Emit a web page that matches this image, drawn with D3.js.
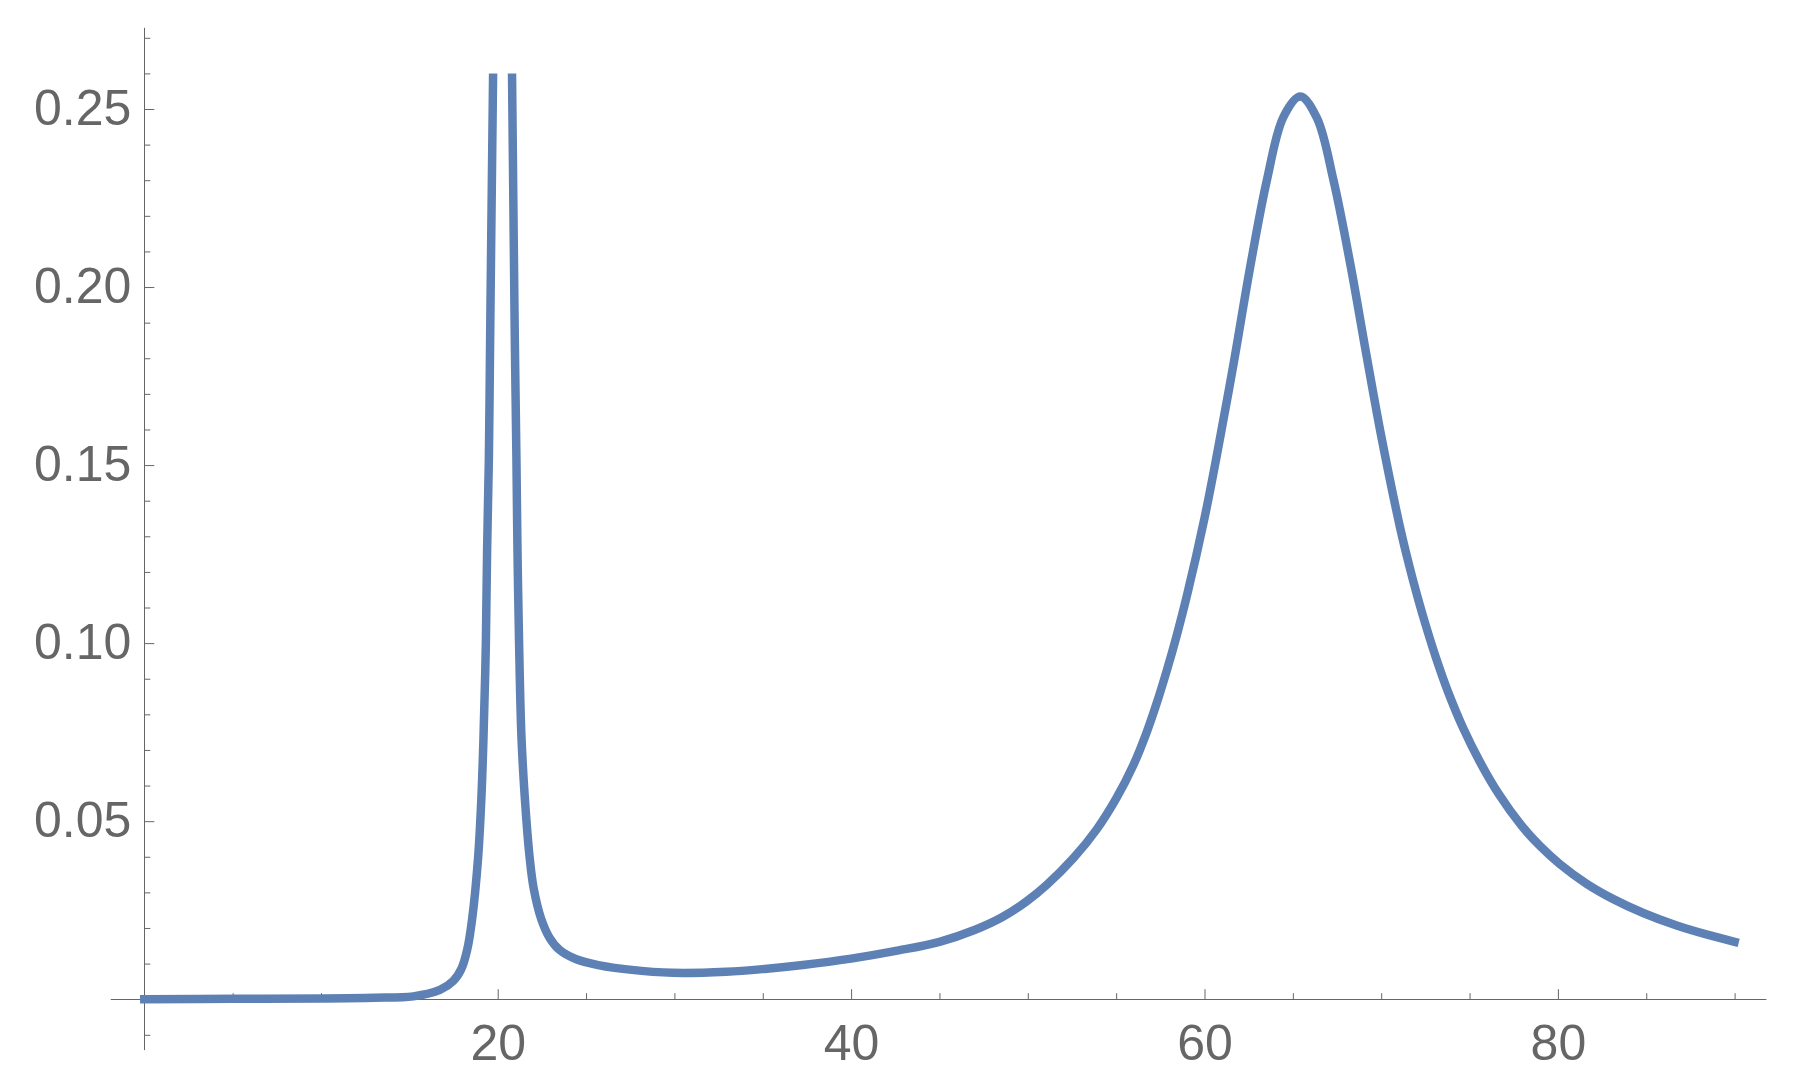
<!DOCTYPE html>
<html>
<head>
<meta charset="UTF-8" />
<title>curve</title>
<script src="https://d3js.org/d3.v7.min.js"></script>
<style>
  html, body { margin: 0; padding: 0; background: #fff; }
  svg { display: block; }
</style>
</head>
<body>
<svg id="chart" width="1805" height="1086"></svg>
<script>
// values (x, y); the spike near 20 runs off the top and is clipped
var xs = [0, 5, 10, 13, 15.22, 16.73, 17.48, 17.95, 18.27, 18.55, 18.89, 19.08, 19.2, 19.33, 19.4, 19.5, 19.57, 19.63, 19.74, 19.9,
  20.27,
  20.65, 20.81, 20.91, 20.97, 21.06, 21.12, 21.21, 21.34, 21.53, 21.81, 22.04, 22.47, 22.94, 23.51, 24.45, 25.77, 27.46, 29.9,
  32.93, 35.1, 37.27, 40, 42.69, 45, 47.02, 48.54, 49.94, 51.07, 52.58, 53.9, 55.03, 55.97, 56.73, 57.3, 57.86, 58.43, 59,
  60, 60.7, 61.64, 62.58, 63.53, 64.47, 65.42, 66.36, 67.3, 68.25, 69.19, 70, 71.08, 71.57, 72.04, 72.54, 73.14, 73.8,
  74.65, 75.55, 76.63, 77.95, 78.99, 80.12, 81.63, 83.14, 84.83, 86.72, 88.61, 90];
var ys = [0, 0.0001, 0.0002, 0.0004, 0.0008, 0.0026, 0.0051, 0.0086, 0.0138, 0.0224, 0.0397, 0.0569, 0.0742, 0.1, 0.1259, 0.1518, 0.1846, 0.2122, 0.2602, 0.35,
  0.9,
  0.35, 0.2602, 0.2122, 0.1846, 0.1518, 0.1259, 0.1, 0.0742, 0.0569, 0.0397, 0.031, 0.0224, 0.0172, 0.0138, 0.0112, 0.0095, 0.0083, 0.0074,
  0.0077, 0.0085, 0.0096, 0.0114, 0.0137, 0.0161, 0.0195, 0.023, 0.0275, 0.0321, 0.0396, 0.0477, 0.0566, 0.0657, 0.075, 0.0832, 0.0922, 0.1022, 0.1132,
  0.1351, 0.1528, 0.1783, 0.2055, 0.23, 0.2478, 0.2535, 0.2475, 0.23, 0.2065, 0.1802, 0.1582, 0.1322, 0.1221, 0.1133, 0.1047, 0.0953, 0.0861,
  0.076, 0.067, 0.0578, 0.0487, 0.043, 0.0379, 0.0324, 0.0281, 0.0242, 0.0207, 0.0179, 0.0161];

var xMajor = [20, 40, 60, 80];
var xMinor = [5, 10, 15, 25, 30, 35, 45, 50, 55, 65, 70, 75, 85, 90];
var yMajor = [0.05, 0.10, 0.15, 0.20, 0.25];
var yLabels = ["0.05", "0.10", "0.15", "0.20", "0.25"];
var yMinor = [-0.01, 0.01, 0.02, 0.03, 0.04, 0.06, 0.07, 0.08, 0.09, 0.11, 0.12, 0.13, 0.14,
  0.16, 0.17, 0.18, 0.19, 0.21, 0.22, 0.23, 0.24, 0.26, 0.27];
var xExtent = [-1.9, 91.8];
var yExtent = [-0.0143, 0.2728];
var yClip = 0.26;

var svg = d3.select("#chart");
var x = d3.scaleLinear().domain([0, 90]).range([144.3, 1734.6]);
var y = d3.scaleLinear().domain([0, 0.25]).range([999.2, 109]);

var axisColor = "#666";
var font = "'Liberation Sans', Arial, sans-serif";

// x axis, ticks pointing up into the plot
var gx = svg.append("g").attr("transform", "translate(0," + y(0) + ")")
  .call(d3.axisBottom(x).tickValues(xMajor).tickSize(-10).tickPadding(25).tickFormat(d3.format("d")));
gx.append("g").call(d3.axisBottom(x).tickValues(xMinor).tickSize(-6).tickFormat(""));
gx.selectAll(".domain").remove();
gx.attr("color", axisColor).attr("font-size", 50).attr("font-family", font);

// y axis
var gy = svg.append("g").attr("transform", "translate(" + x(0) + ",0)")
  .call(d3.axisLeft(y).tickValues(yMajor).tickSize(-10).tickPadding(13).tickFormat(function(d, i) { return yLabels[i]; }));
gy.append("g").call(d3.axisLeft(y).tickValues(yMinor).tickSize(-6).tickFormat(""));
gy.selectAll(".domain").remove();
gy.attr("color", axisColor).attr("font-size", 50).attr("font-family", font);
gy.selectAll("text").attr("dy", "0.3em");

svg.append("line")
  .attr("x1", x(xExtent[0])).attr("x2", x(xExtent[1]))
  .attr("y1", Math.round(y(0)) + 0.5).attr("y2", Math.round(y(0)) + 0.5)
  .attr("stroke", axisColor).attr("stroke-width", 1);
svg.append("line")
  .attr("x1", Math.round(x(0)) + 0.5).attr("x2", Math.round(x(0)) + 0.5)
  .attr("y1", y(yExtent[0])).attr("y2", y(yExtent[1]))
  .attr("stroke", axisColor).attr("stroke-width", 1);

// clip at the top of the plot range
svg.append("clipPath").attr("id", "clip")
  .append("rect")
  .attr("x", 0).attr("y", y(yClip))
  .attr("width", 1805).attr("height", 1086 - y(yClip));

var line = d3.line()
  .x(function(i) { return x(xs[i]); })
  .y(function(i) { return y(ys[i]); })
  .curve(d3.curveCatmullRom.alpha(0.5));

svg.append("path")
  .datum(d3.range(xs.length))
  .attr("clip-path", "url(#clip)")
  .attr("fill", "none")
  .attr("stroke", "#5E81B5")
  .attr("stroke-width", 8.5)
  .attr("stroke-linecap", "square")
  .attr("stroke-linejoin", "round")
  .attr("d", line);
</script>
</body>
</html>
